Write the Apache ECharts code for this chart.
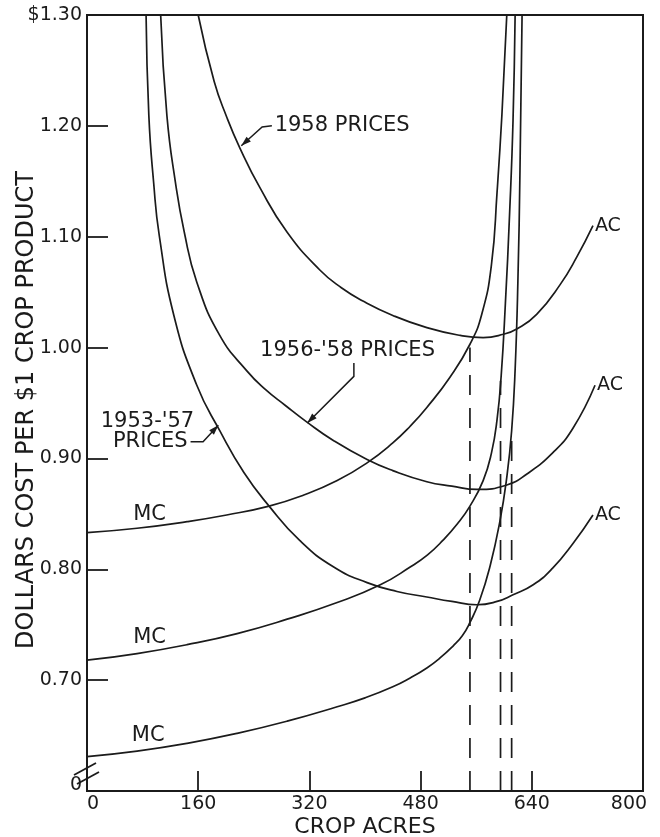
<!DOCTYPE html>
<html>
<head>
<meta charset="utf-8">
<script src="https://cdn.jsdelivr.net/npm/echarts@6/dist/echarts.min.js"></script>
<style>
  html, body { margin: 0; padding: 0; background: #fff; }
  #chart { width: 660px; height: 837px; }
</style>
</head>
<body>
<div id="chart"></div>
<script>
// Average (AC) and marginal (MC) cost per $1 of crop product vs. crop acres,
// under three price assumptions.

const xTickValues = [0, 160, 320, 480, 640, 800];
const yTickValues = [0.6, 0.7, 0.8, 0.9, 1.0, 1.1, 1.2, 1.3];
const yTickLabels = ['0', '0.70', '0.80', '0.90', '1.00', '1.10', '1.20', '$1.30'];

// [acres, dollars]
const ac1958 = [[160,1.30],[183,1.240],[201,1.208],[220,1.180],[249,1.144],[288,1.104],[335,1.070],[366,1.054],[397,1.042],[440,1.029],[489,1.018],[537,1.011],[570,1.009],[599,1.012],[619,1.017],[647,1.030],[681,1.057],[705,1.082],[728,1.110]];
const ac1956to58 = [[106,1.30],[115,1.209],[127,1.150],[140,1.104],[158,1.059],[191,1.011],[230,0.979],[257,0.962],[285,0.948],[316,0.933],[355,0.916],[403,0.899],[440,0.889],[489,0.879],[525,0.875],[561,0.872],[604,0.876],[633,0.886],[670,0.905],[699,0.927],[731,0.966]];
const ac1953to57 = [[85,1.30],[89,1.209],[96,1.148],[104,1.101],[125,1.029],[158,0.966],[191,0.925],[226,0.887],[262,0.857],[306,0.826],[355,0.802],[403,0.788],[446,0.780],[489,0.775],[525,0.771],[561,0.768],[590,0.771],[613,0.777],[642,0.786],[670,0.801],[699,0.823],[728,0.849]];

const mc1958 = [[0,0.833],[72,0.837],[144,0.843],[201,0.849],[262,0.857],[312,0.867],[360,0.880],[403,0.896],[440,0.914],[465,0.929],[489,0.946],[522,0.973],[551,1.003],[568,1.030],[582,1.075],[590,1.14],[597,1.21],[604,1.30]];
const mc1956to58 = [[0,0.718],[72,0.724],[144,0.732],[216,0.742],[288,0.755],[360,0.770],[422,0.786],[465,0.802],[490,0.813],[512,0.826],[533,0.841],[551,0.857],[570,0.880],[582,0.905],[590,0.935],[596,0.975],[602,1.04],[608,1.12],[613,1.205],[616,1.30]];
const mc1953to57 = [[0,0.631],[72,0.636],[144,0.643],[216,0.652],[288,0.663],[360,0.676],[400,0.684],[440,0.694],[465,0.702],[489,0.711],[508,0.720],[527,0.731],[540,0.740],[551,0.752],[565,0.772],[580,0.803],[594,0.843],[604,0.883],[611,0.925],[616,0.98],[620,1.06],[623,1.16],[626,1.30]];

// Output levels read down from each MC curve
const dropAcres = [551, 595, 611];
const dropTops = [1.00, 0.97, 0.925];

const INK = '#1b1b1b';
const FONT = '"DejaVu Sans", sans-serif';

function curve(name, data, endText) {
  const s = {
    type: 'line', name: name, data: data,
    smooth: 0.5,
    symbol: 'none', silent: true, clip: true,
    lineStyle: { color: INK, width: 1.7 }
  };
  if (endText) {
    s.endLabel = { show: true, formatter: endText, color: INK, fontFamily: FONT, fontSize: 19, distance: 2 };
  }
  return s;
}

const dropSeries = dropAcres.map((a, i) => ({
  type: 'line', name: 'drop' + i,
  data: [[a, 0.6], [a, dropTops[i]]],
  symbol: 'none', silent: true,
  lineStyle: { color: INK, width: 1.7, type: [20, 13] }
}));

const chart = echarts.init(document.getElementById('chart'), null, { renderer: 'canvas' });

chart.setOption({
  animation: false,
  backgroundColor: '#fff',
  grid: {
    left: 87, right: 17, top: 15, bottom: 46,
    containLabel: false, outerBoundsMode: 'none',
    show: true, borderColor: INK, borderWidth: 2, backgroundColor: 'transparent'
  },
  xAxis: {
    type: 'value', min: 0, max: 800, interval: 160,
    name: 'CROP ACRES', nameLocation: 'middle', nameGap: 25, nameMoveOverlap: false,
    nameTextStyle: { color: INK, fontFamily: FONT, fontSize: 22 },
    axisLine: { lineStyle: { color: INK, width: 2 } },
    axisTick: { inside: true, length: 20, lineStyle: { color: INK, width: 1.8 } },
    splitLine: { show: false },
    axisLabel: {
      color: INK, fontFamily: FONT, fontSize: 19, margin: 4,
      formatter: v => {
        const i = xTickValues.indexOf(v);
        if (i === 0) return '{l|' + v + '}';
        if (i === xTickValues.length - 1) return '{r|' + v + '}';
        return String(v);
      },
      rich: {
        l: { fontFamily: FONT, fontSize: 19, color: INK, padding: [0, 0, 0, 12] },
        r: { fontFamily: FONT, fontSize: 19, color: INK, padding: [0, 28, 0, 0] }
      }
    }
  },
  yAxis: {
    type: 'value', min: 0.6, max: 1.3, interval: 0.1,
    name: 'DOLLARS COST PER $1 CROP PRODUCT', nameLocation: 'middle', nameGap: 48, nameRotate: 90,
    nameMoveOverlap: false,
    nameTextStyle: { color: INK, fontFamily: FONT, fontSize: 24, padding: [0, 14, 0, 0] },
    axisLine: { show: true, lineStyle: { color: INK, width: 2 } },
    axisTick: { show: true, inside: true, length: 21, lineStyle: { color: INK, width: 1.8 } },
    splitLine: { show: false },
    axisLabel: {
      color: INK, fontFamily: FONT, fontSize: 19, margin: 5,
      formatter: v => {
        let i = -1;
        yTickValues.forEach((t, k) => { if (Math.abs(t - v) < 1e-6) i = k; });
        if (i === 0) return '{z|' + yTickLabels[0] + '}';
        return i >= 0 ? yTickLabels[i] : '';
      },
      rich: { z: { fontFamily: FONT, fontSize: 19, color: INK, padding: [0, 0, 12, 0] } }
    }
  },
  series: [
    curve('AC 1958 prices', ac1958, 'AC'),
    curve('AC 1956-58 prices', ac1956to58, 'AC'),
    curve('AC 1953-57 prices', ac1953to57, 'AC'),
    curve('MC 1958 prices', mc1958),
    curve('MC 1956-58 prices', mc1956to58),
    curve('MC 1953-57 prices', mc1953to57)
  ].concat(dropSeries)
});

// Annotation text and leader arrows, anchored in data space
const notes = [
  { text: '1958 PRICES', at: [270, 1.20], align: 'left' },
  { text: "1956-'58 PRICES", at: [249, 0.997], align: 'left' },
  { text: "1953-'57", at: [87, 0.933], align: 'center' },
  { text: 'PRICES', at: [91, 0.915], align: 'center' },
  { text: 'MC', at: [90, 0.849], align: 'center' },
  { text: 'MC', at: [90, 0.738], align: 'center' },
  { text: 'MC', at: [88, 0.650], align: 'center' }
];
const leaders = [
  [[266, 1.20], [252, 1.199], [222, 1.182]],
  [[384, 0.986], [384, 0.974], [317, 0.932]],
  [[149, 0.915], [167, 0.915], [189, 0.930]]
];

function toPx(p) { return chart.convertToPixel({ gridIndex: 0 }, p); }

const graphics = [];
notes.forEach(n => {
  const p = toPx(n.at);
  graphics.push({
    type: 'text', x: p[0], y: p[1], silent: true,
    style: { text: n.text, fill: INK, font: '21px ' + FONT, textAlign: n.align, textVerticalAlign: 'middle' }
  });
});
leaders.forEach(l => {
  const pts = l.map(toPx);
  graphics.push({ type: 'polyline', silent: true, shape: { points: pts }, style: { stroke: INK, lineWidth: 1.5, fill: null } });
  const a = pts[pts.length - 2], b = pts[pts.length - 1];
  const dx = b[0] - a[0], dy = b[1] - a[1];
  const len = Math.hypot(dx, dy), ux = dx / len, uy = dy / len;
  const h = 10, w = 3.2;
  const bx = b[0] - ux * h, by = b[1] - uy * h;
  graphics.push({
    type: 'polygon', silent: true,
    shape: { points: [b, [bx - uy * w, by + ux * w], [bx + uy * w, by - ux * w]] },
    style: { fill: INK }
  });
});

// Axis break marks on the value axis near its base
const brk = toPx([0, 0.618]);
[[-13, 4, 9, -8], [-10, 13, 12, 1]].forEach(d => {
  graphics.push({
    type: 'line', silent: true,
    shape: { x1: brk[0] + d[0], y1: brk[1] + d[1], x2: brk[0] + d[2], y2: brk[1] + d[3] },
    style: { stroke: INK, lineWidth: 1.8 }
  });
});

chart.setOption({ graphic: graphics });
</script>
</body>
</html>
